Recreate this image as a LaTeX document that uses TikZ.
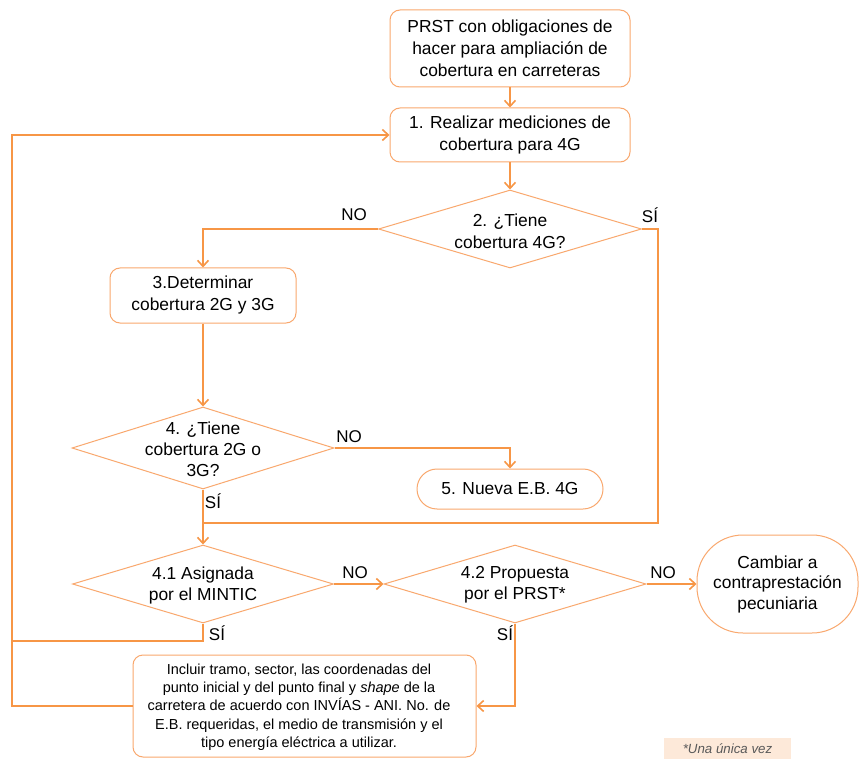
\documentclass[tikz,border=0pt]{standalone}
\usepackage{fontspec}
\setmainfont{Liberation Sans}
\usetikzlibrary{arrows.meta,shapes.geometric,calc}
\definecolor{orline}{HTML}{F79646}
\definecolor{orbord}{HTML}{F9A86E}
\definecolor{notefill}{HTML}{FDE9D9}
\definecolor{notetext}{HTML}{595959}
\tikzset{
  box/.style={draw=orbord, line width=1pt, fill=white, rounded corners=10pt, inner sep=0pt, align=center, font=\fontsize{17.4}{22}\selectfont},
  stadium/.style={draw=orbord, line width=1pt, fill=white, inner sep=0pt, align=center, font=\fontsize{17.4}{22}\selectfont},
  dia/.style={draw=orbord, line width=1pt, fill=white, diamond, inner sep=0pt},
  txt/.style={inner sep=0pt, align=center, font=\fontsize{17.4}{22}\selectfont},
  lbl/.style={inner sep=0pt, font=\fontsize{17}{20}\selectfont},
  conn/.style={draw=orline, line width=2pt},
  arr/.style={conn, -{Straight Barb[length=6pt,width=11pt,line width=1.6pt]}},
}
\begin{document}
\begin{tikzpicture}[x=1pt,y=-1pt]
\useasboundingbox (0,0) rectangle (859,759);
\fill[white] (0,0) rectangle (859,759);

% nodes
\node[box, minimum width=240pt, minimum height=77pt] (n0) at (510,48.5) {PRST con obligaciones de\\hacer para ampliación de\\cobertura en carreteras};
\node[box, minimum width=240pt, minimum height=54pt] (n1) at (510,135) {1. Realizar mediciones de\\cobertura para 4G};
\node[dia, minimum width=263pt, minimum height=78pt] (d2) at (510,229) {};
\node[txt] (t2) at (510,231) {2. ¿Tiene\\cobertura 4G?};
\node[box, minimum width=186pt, minimum height=55pt] (n3) at (203,295.5) {3.Determinar\\cobertura 2G y 3G};
\node[dia, minimum width=262pt, minimum height=82pt] (d4) at (203,448) {};
\node[txt, font=\fontsize{17.4}{21}\selectfont] (t4) at (203,449) {4. ¿Tiene\\cobertura 2G o\\3G?};
\node[stadium, rounded corners=20pt, minimum width=186pt, minimum height=40pt] (n5) at (510,489) {5. Nueva E.B. 4G};
\node[dia, minimum width=261pt, minimum height=78pt] (d41) at (203,584) {};
\node[txt, font=\fontsize{17.4}{21}\selectfont] (t41) at (203,585) {4.1 Asignada\\por el MINTIC};
\node[dia, minimum width=262pt, minimum height=78pt] (d42) at (515,584) {};
\node[txt, font=\fontsize{17.4}{21}\selectfont] (t42) at (515,585) {4.2 Propuesta\\por el PRST*};
\node[stadium, rounded corners=46pt, minimum width=161pt, minimum height=98pt, font=\fontsize{17.4}{20.5}\selectfont] (nc) at (777.5,584) {Cambiar a\\contraprestación\\pecuniaria};
\node[box, minimum width=343pt, minimum height=102pt] (n6) at (304.5,706) {};
\node[txt, font=\fontsize{14.5}{18.3}\selectfont] (t6) at (299,707) {Incluir tramo, sector, las coordenadas del\\punto inicial y del punto final y \textit{shape} de la\\carretera de acuerdo con INVÍAS - ANI. No. de\\E.B. requeridas, el medio de transmisión y el\\tipo energía eléctrica a utilizar.};
\node[fill=notefill, minimum width=127pt, minimum height=21pt, inner sep=0pt, text=notetext, font=\fontsize{13.3}{15}\itshape] (note) at (727.5,748.5) {*Una única vez};

% coordinates
\coordinate (r2) at (658,523);
\coordinate (j1) at (203,523);
\coordinate (L) at (12,135);
\coordinate (m) at (12,641);

% connectors
\draw[arr] (n0.south) -- (n1.north);
\draw[arr] (n1.south) -- (d2.north);
\draw[arr] (d2.west) -| (n3.north);
\draw[conn] (d2.east) -| (r2) -- (j1);
\draw[arr] (n3.south) -- (d4.north);
\draw[arr] (d4.east) -| (n5.north);
\draw[arr] (d4.south) -- (d41.north);
\draw[arr] (d41.east) -- (d42.west);
\draw[arr] (d42.east) -- (nc.west);
\draw[arr] (d42.south) |- (n6.east);
\draw[conn] (d41.south) |- (m);
\draw[arr] (n6.west) -| (L) -- (n1.west);

% labels
\node[lbl] (l1) at (354,215) {NO};
\node[lbl] (l2) at (650,215) {SÍ};
\node[lbl] (l3) at (349,437) {NO};
\node[lbl] (l4) at (213,501) {SÍ};
\node[lbl] (l5) at (355,573) {NO};
\node[lbl] (l6) at (663,573) {NO};
\node[lbl] (l7) at (217,633) {SÍ};
\node[lbl] (l8) at (505,633) {SÍ};
\end{tikzpicture}
\end{document}
